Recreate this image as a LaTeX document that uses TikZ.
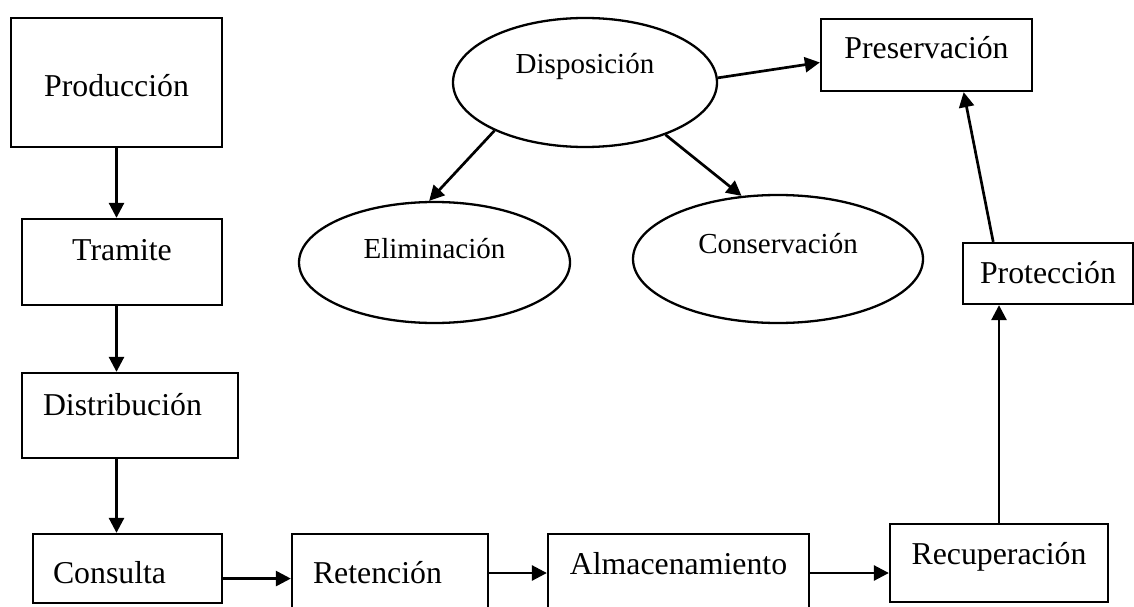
\documentclass[tikz,border=0pt]{standalone}
\usepackage{fontspec}
\setmainfont{Liberation Serif}
\usetikzlibrary{shapes.geometric,arrows.meta}
\begin{document}
\begin{tikzpicture}[x=1pt,y=-1pt,>={Triangle[length=15pt,width=15pt]}]
        \tikzstyle{box}=[rectangle,draw=black,line width=2.3pt,inner sep=0pt,align=center,font=\fontsize{31.8pt}{36pt}\selectfont]
        \tikzstyle{oval}=[ellipse,draw=black,line width=2.3pt,inner sep=0pt,font=\fontsize{29pt}{34pt}\selectfont]
        \tikzstyle{flow}=[->,line width=2.7pt]
        \useasboundingbox (0,0) rectangle (1134,607);

        % left column
        \node[box,text width=211pt,text height=79pt,text depth=50pt] (prod) at (116.5,82.5) {Producción};
        \node[box,text width=200pt,text height=41pt,text depth=45pt] (tram) at (122,262) {Tramite};
        \node[box,align=left,inner xsep=21pt,text width=174pt,text height=42pt,text depth=43pt] (dist) at (130,415.5) {Distribución};
        \node[box,align=left,inner xsep=20pt,text width=149pt,text height=49pt,text depth=20pt] (cons) at (127.5,568.5) {Consulta};

        % bottom row
        \node[box,align=left,inner xsep=21pt,text width=154pt,text height=49pt,text depth=29pt] (ret) at (390,573) {Retención};
        \node[box,text width=261pt,text height=40pt,text depth=38pt] (alm) at (678.5,573) {Almacenamiento};
        \node[box,text width=218pt,text height=40pt,text depth=38pt] (recup) at (999,563) {Recuperación};

        % right side
        \node[box,text width=170pt,text height=40pt,text depth=21pt] (prot) at (1048,273.5) {Protección};
        \node[box,text width=211pt,text height=40pt,text depth=32pt] (pres) at (926.5,55) {Preservación};

        % disposition
        \node[oval,minimum width=264pt,minimum height=129pt,text height=10pt,text depth=27pt] (disp) at (585,82.5) {Disposición};
        \node[oval,minimum width=271pt,minimum height=121pt,text height=10pt,text depth=19pt] (elim) at (434.5,262.5) {Eliminación};
        \node[oval,minimum width=290pt,minimum height=128pt,text height=10pt,text depth=22pt] (conserv) at (778,259) {Conservación};

        \draw[flow] (prod.south) -- (prod.south |- tram.north);
        \draw[flow] (prod.south |- tram.south) -- (prod.south |- dist.north);
        \draw[flow] (prod.south |- dist.south) -- (prod.south |- cons.north);
        \draw[flow] (cons.354) -- (cons.354 -| ret.west);
        \draw[flow] (ret.east) -- (ret.east -| alm.west);
        \draw[flow] (alm.east) -- (alm.east -| recup.west);
        \draw[flow] (recup.north) -- (recup.north |- prot.south);
        \draw[flow] (prot.150) -- (pres.315);
        \draw[flow] (disp.2) -- (pres.184);
        \draw[flow] (disp.208) -- (elim.95);
        \draw[flow] (disp.327) -- (conserv.120);
    \end{tikzpicture}
\end{document}
